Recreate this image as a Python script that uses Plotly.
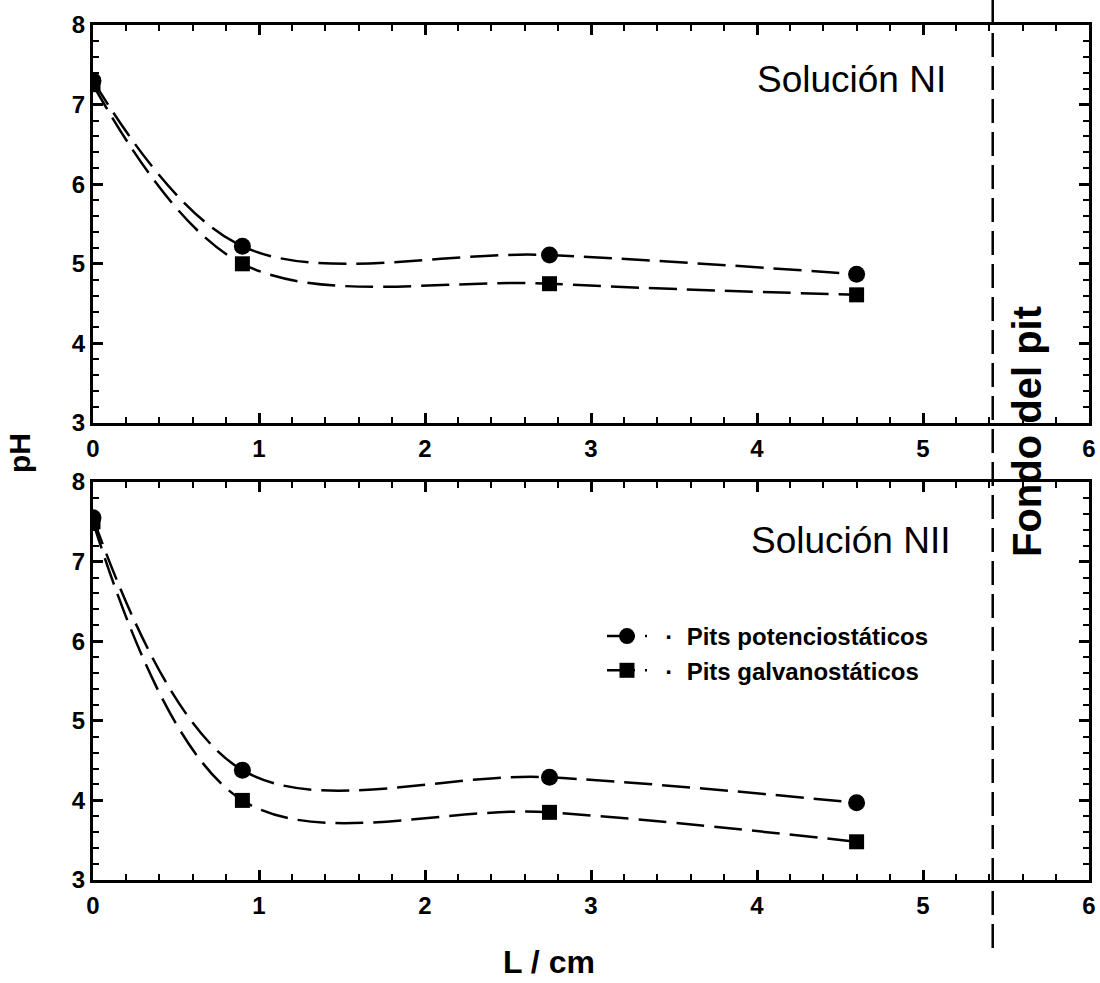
import plotly.graph_objects as go

# Data
L_top = [0.0, 0.9, 2.75, 4.6]
pH_pot_NI = [7.30, 5.22, 5.11, 4.87]
pH_gal_NI = [7.25, 5.00, 4.75, 4.61]

L_bot = [0.0, 0.9, 2.75, 4.6]
pH_pot_NII = [7.55, 4.38, 4.29, 3.97]
pH_gal_NII = [7.50, 4.00, 3.85, 3.48]

pit_bottom_x = 5.42
x_ticks = [0, 1, 2, 3, 4, 5, 6]
y_ticks = [3, 4, 5, 6, 7, 8]

W, H = 1100, 983
FONT = "Liberation Sans, Arial"
fig = go.Figure()

line_style = dict(color="black", width=2.5, dash="28px,10px", shape="spline", smoothing=1.0)

def add(x, y, name, symbol, xa, ya, show):
    fig.add_trace(go.Scatter(
        x=x, y=y, mode="lines+markers", name=name, showlegend=show,
        line=line_style,
        marker=dict(symbol=symbol, size=17 if symbol == "circle" else 15, color="black"),
        xaxis=xa, yaxis=ya))

NB = "\u00a0"
add(L_top, pH_pot_NI, "·" + NB * 2 + "Pits potenciostáticos", "circle", "x", "y", False)
add(L_top, pH_gal_NI, "·" + NB * 2 + "Pits galvanostáticos", "square", "x", "y", False)
add(L_bot, pH_pot_NII, NB * 2 + "·" + NB * 2 + "Pits potenciostáticos", "circle", "x2", "y2", True)
add(L_bot, pH_gal_NII, NB * 2 + "·" + NB * 2 + "Pits galvanostáticos", "square", "x2", "y2", True)

tickfont = dict(family=FONT, size=24, color="black", weight="bold")
x0p, x1p = 93 / W, 1089 / W

def px_y(p):
    return (H - p) / H

minor = dict(dtick=0.2, ticks="inside", ticklen=6, tickwidth=2, tickcolor="black")
common = dict(ticks="inside", ticklen=10, tickwidth=2.5, tickcolor="black", showline=True,
              linecolor="black", linewidth=3, mirror="ticks", showgrid=False, zeroline=False,
              tickfont=tickfont, automargin=False, minor=minor)
common_x = dict(range=[0, 6], tickvals=x_ticks, ticklabelstandoff=2, **common)
common_y = dict(range=[3, 8], tickvals=y_ticks, **common)

fig.update_layout(
    width=W, height=H, margin=dict(l=0, r=0, t=0, b=0, autoexpand=False),
    paper_bgcolor="white", plot_bgcolor="white",
    xaxis=dict(domain=[x0p, x1p], anchor="y", **common_x),
    yaxis=dict(domain=[px_y(423), px_y(25)], anchor="x", **common_y),
    xaxis2=dict(domain=[x0p, x1p], anchor="y2", **common_x),
    yaxis2=dict(domain=[px_y(880), px_y(482)], anchor="x2", **common_y),
    legend=dict(x=602 / W, y=px_y(614), xanchor="left", yanchor="top",
                bgcolor="rgba(0,0,0,0)",
                font=dict(family=FONT, size=24, color="black", weight="bold"),
                itemwidth=40, tracegroupgap=0),
    showlegend=True,
)

fig.add_shape(type="line", xref="x", yref="paper", x0=pit_bottom_x, x1=pit_bottom_x,
              y0=px_y(948), y1=1.0, line=dict(color="black", width=2.5, dash="24px,9px"))

ann_font = dict(family=FONT, size=37, color="black")
fig.add_annotation(text="Solución NI", xref="paper", yref="paper", x=851 / W, y=px_y(80),
                   showarrow=False, font=ann_font, xanchor="center", yanchor="middle")
fig.add_annotation(text="Solución NII", xref="paper", yref="paper", x=851 / W, y=px_y(540),
                   showarrow=False, font=ann_font, xanchor="center", yanchor="middle")
fig.add_annotation(text="Fondo del pit", xref="paper", yref="paper", x=1027 / W, y=px_y(432),
                   showarrow=False, textangle=-90,
                   font=dict(family=FONT, size=40, color="black", weight="bold"),
                   xanchor="center", yanchor="middle")
fig.add_annotation(text="pH", xref="paper", yref="paper", x=19 / W, y=px_y(453),
                   showarrow=False, textangle=-90,
                   font=dict(family=FONT, size=30, color="black", weight="bold"),
                   xanchor="center", yanchor="middle")
fig.add_annotation(text="L / cm", xref="paper", yref="paper", x=549 / W, y=px_y(962),
                   showarrow=False, font=dict(family=FONT, size=32, color="black", weight="bold"),
                   xanchor="center", yanchor="middle")

fig.write_html("out.html")
